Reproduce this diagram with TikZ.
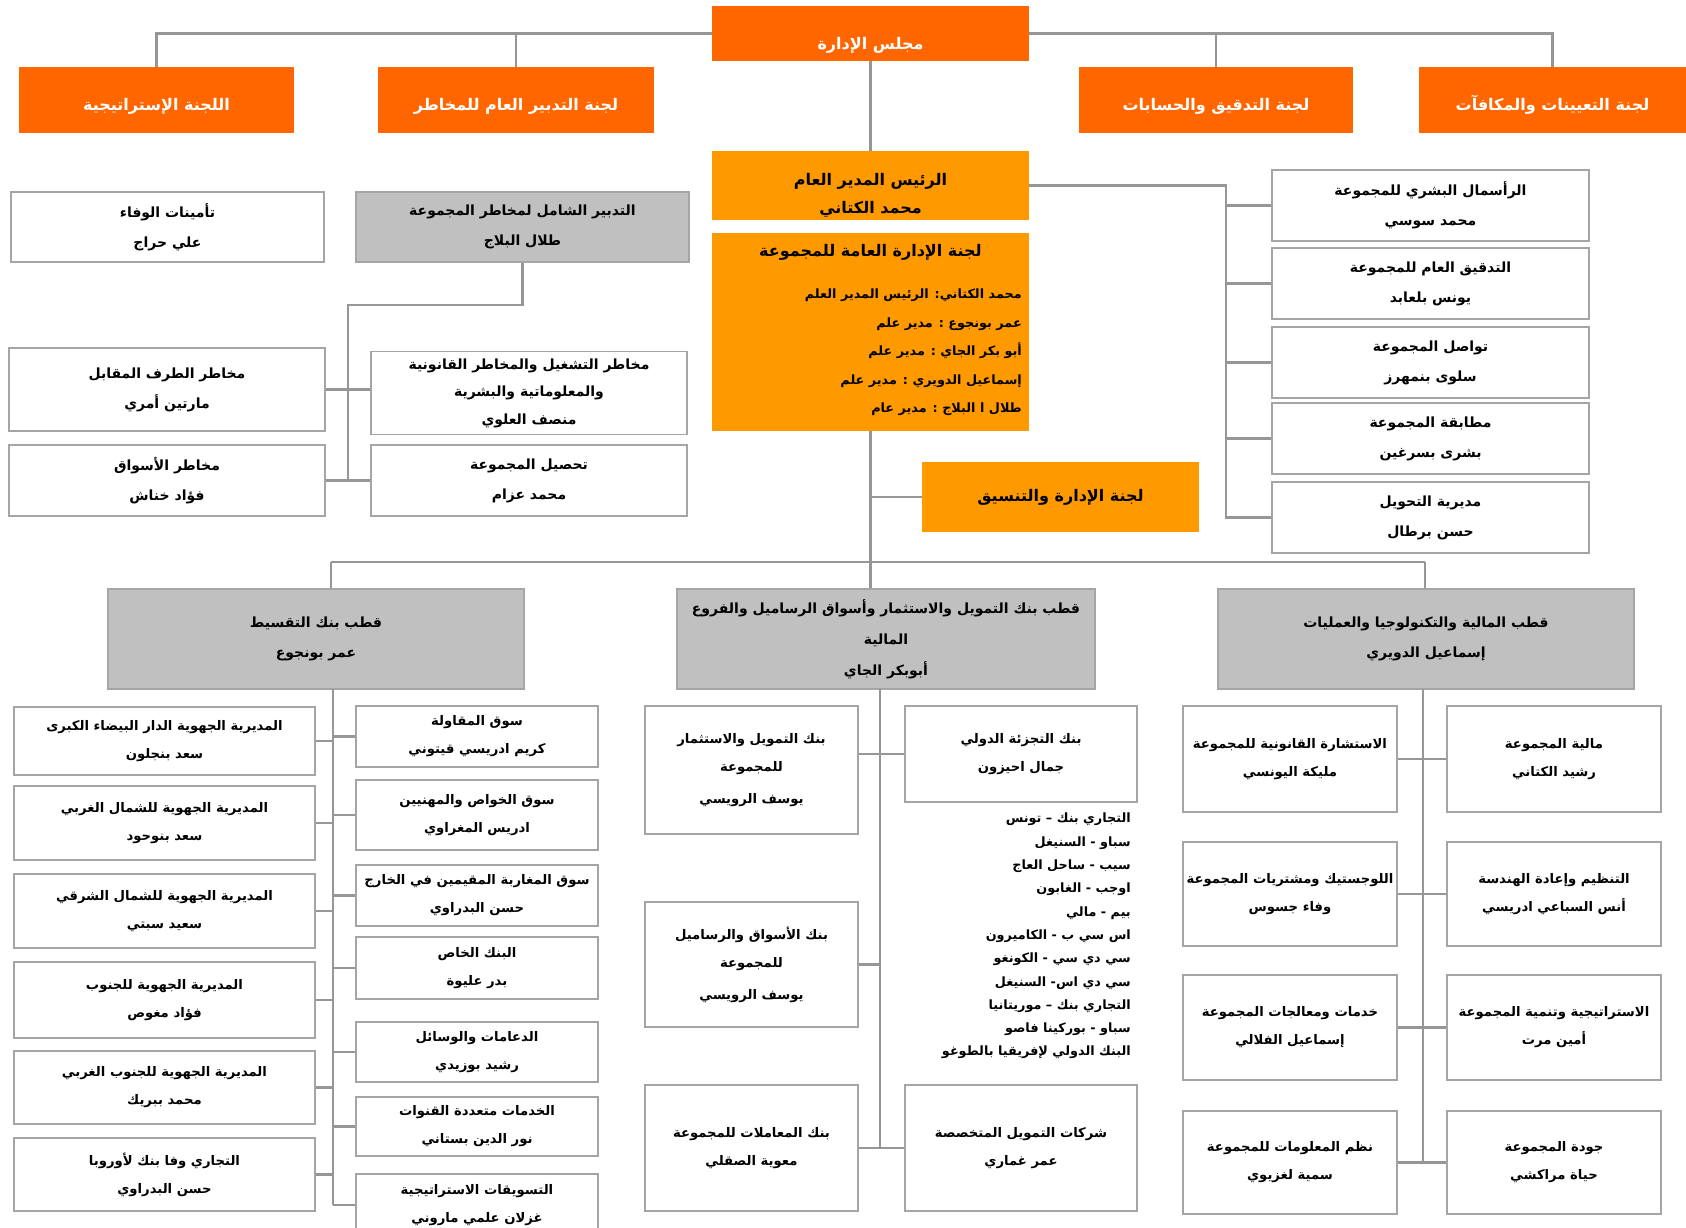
\documentclass[tikz,border=0pt]{standalone}
\usepackage{fontspec}
\usepackage{tikz}
\usetikzlibrary{positioning,calc}
\TeXXeTstate=1
\newfontfamily\arabicfont[Script=Arabic]{DejaVu Sans}
\newcommand{\artext}[1]{\beginR #1\endR}
\definecolor{boardorange}{RGB}{255,102,0}
\definecolor{ceoorange}{RGB}{255,153,0}
\definecolor{polegrey}{RGB}{192,192,192}
\definecolor{linkgrey}{RGB}{150,150,150}
\definecolor{framegrey}{RGB}{165,165,165}

\begin{document}
\begin{tikzpicture}[x=1pt,y=-1pt,
    committee/.style={fill=boardorange, text=white, inner sep=0pt, font=\arabicfont\bfseries\fontsize{16}{20}\selectfont},
    ceobox/.style={fill=ceoorange, inner sep=0pt, align=center, font=\arabicfont\bfseries\fontsize{16}{28}\selectfont},
    unit/.style={draw=framegrey, line width=1.5pt, fill=white, inner sep=0pt, align=center, font=\arabicfont\bfseries\fontsize{14}{30}\selectfont},
    smallunit/.style={unit, font=\arabicfont\bfseries\fontsize{13.2}{28}\selectfont},
    pole/.style={unit, fill=polegrey},
    link/.style={draw=linkgrey, line width=2.5pt}]
    \useasboundingbox (0,0) rectangle (1686,1228);

    % board and its committees
    \node[committee, minimum width=317, minimum height=55] (board) at (870.5,33.5) {\raisebox{-16pt}[0pt][0pt]{\artext{مجلس الإدارة}}};
    \node[committee, minimum width=275, minimum height=66] (strat) at (156.5,100) {\raisebox{-10pt}[0pt][0pt]{\artext{اللجنة الإستراتيجية}}};
    \node[committee, minimum width=276, minimum height=66] (riskc) at (516,100) {\raisebox{-10pt}[0pt][0pt]{\artext{لجنة التدبير العام للمخاطر}}};
    \node[committee, minimum width=274, minimum height=66] (auditc) at (1216,100) {\raisebox{-10pt}[0pt][0pt]{\artext{لجنة التدقيق والحسابات}}};
    \node[committee, minimum width=267, minimum height=66] (nominc) at (1552.5,100) {\raisebox{-10pt}[0pt][0pt]{\artext{لجنة التعيينات والمكافآت}}};
    \draw[link] (strat.north) |- (board.west);
    \draw[link] (riskc.north) |- (board.west);
    \draw[link] (auditc.north) |- (board.east);
    \draw[link] (nominc.north) |- (board.east);

    % general management
    \node[ceobox, minimum width=317, minimum height=69] (ceo) at (870.5,185.5) {};
    \node[ceobox, fill=none] (ceoname) at (870.5,195) {\artext{الرئيس المدير العام}\\\artext{محمد الكتاني}};
    \node[ceobox, minimum width=317, minimum height=198] (gmc) at (870.5,332) {};
    \node[font=\arabicfont\bfseries\fontsize{16}{20}\selectfont] (gmctitle) at (870.5,252) {\artext{لجنة الإدارة العامة للمجموعة}};
    \node[anchor=north east, align=right, inner sep=0pt, font=\arabicfont\bfseries\fontsize{12.8}{28.5}\selectfont] (gmclist) at (1022,289) {\artext{محمد الكتاني: الرئيس المدير العلم}\\\artext{عمر بونجوع : مدير علم}\\\artext{أبو بكر الجاي : مدير علم}\\\artext{إسماعيل الدويري : مدير علم}\\\artext{طلال ا البلاج : مدير عام}};
    \draw[link] (board.south) -- (board.south |- ceo.north);
    \node[ceobox, minimum width=277, minimum height=70] (coord) at (1060.5,497) {\artext{لجنة الإدارة والتنسيق}};
    \draw[link] (coord.west) -- (coord.west -| gmc.south);

    % group functions
    \node[unit, minimum width=317, minimum height=71] (hcap) at (1430.5,205.5) {\artext{الرأسمال البشري للمجموعة}\\\artext{محمد سوسي}};
    \node[unit, minimum width=317, minimum height=71] (gaudit) at (1430.5,283.5) {\artext{التدقيق العام للمجموعة}\\\artext{يونس بلعابد}};
    \node[unit, minimum width=317, minimum height=71] (comm) at (1430.5,362.5) {\artext{تواصل المجموعة}\\\artext{سلوى بنمهرز}};
    \node[unit, minimum width=317, minimum height=71] (compl) at (1430.5,438.5) {\artext{مطابقة المجموعة}\\\artext{بشرى بسرغين}};
    \node[unit, minimum width=317, minimum height=71] (transf) at (1430.5,517.5) {\artext{مديرية  التحويل}\\\artext{حسن برطال}};
    \coordinate (hrspine) at (1226,0);
    \draw[link] (ceo.east) -| (hrspine |- transf.west) -- (transf.west);
    \foreach \n in {hcap,gaudit,comm,compl}
        \draw[link] (hrspine |- \n.west) -- (\n.west);

    % risk management
    \node[unit, minimum width=313, minimum height=70] (wafa) at (167.5,227) {\artext{تأمينات الوفاء}\\\artext{علي حراج}};
    \node[pole, minimum width=333, minimum height=70] (grm) at (522.5,227) {\artext{التدبير الشامل لمخاطر المجموعة}\\\artext{طلال البلاج}};
    \node[unit, minimum width=316, minimum height=83] (cpr) at (167,389.5) {\artext{مخاطر الطرف المقابل}\\\artext{مارتين أمري}};
    \node[unit, minimum width=316, minimum height=83, font=\arabicfont\bfseries\fontsize{14}{27.5}\selectfont] (opr) at (529,393) {\artext{مخاطر التشغيل والمخاطر القانونية}\\\artext{والمعلوماتية والبشرية}\\\artext{منصف العلوي}};
    \node[unit, minimum width=316, minimum height=71] (mkr) at (167,480.5) {\artext{مخاطر الأسواق}\\\artext{فؤاد خناش}};
    \node[unit, minimum width=316, minimum height=71] (coll) at (529,480.5) {\artext{تحصيل المجموعة}\\\artext{محمد عزام}};
    \coordinate (rkspine) at (348,305);
    \draw[link] (grm.south) |- (rkspine) -- (rkspine |- mkr.east);
    \draw[link] (cpr.east) -- (cpr.east -| opr.west);
    \draw[link] (mkr.east) -- (coll.west);

    % poles
    \coordinate (barL) at (331,562);
    \coordinate (barR) at (1425,562);
    \node[pole, minimum width=416, minimum height=100] (plA) at (316,639) {\artext{قطب بنك التقسيط}\\\artext{عمر بونجوع}};
    \node[pole, minimum width=418, minimum height=100, font=\arabicfont\bfseries\fontsize{14}{31}\selectfont] (plB) at (886,639) {\artext{قطب بنك التمويل والاستثمار وأسواق الرساميل والفروع}\\\artext{المالية}\\\artext{أبوبكر الجاي}};
    \node[pole, minimum width=416, minimum height=100] (plC) at (1426,639) {\artext{قطب المالية والتكنولوجيا والعمليات}\\\artext{إسماعيل الدويري}};
    \draw[link] (gmc.south) -- (gmc.south |- plB.north);
    \draw[link] (barL) -- (barR);
    \draw[link] (barL) -- (barL |- plA.north);
    \draw[link] (barR) -- (barR |- plC.north);

    % installment bank pole
    \node[smallunit, minimum width=301, minimum height=68] (a1) at (164.5,741) {\artext{المديرية الجهوية الدار البيضاء الكبرى}\\\artext{سعد بنجلون}};
    \node[smallunit, minimum width=301, minimum height=74] (a2) at (164.5,823) {\artext{المديرية الجهوية للشمال الغربي}\\\artext{سعد بنوحود}};
    \node[smallunit, minimum width=301, minimum height=74] (a3) at (164.5,911) {\artext{المديرية الجهوية للشمال الشرقي}\\\artext{سعيد سبتي}};
    \node[smallunit, minimum width=301, minimum height=76] (a4) at (164.5,1000) {\artext{المديرية الجهوية للجنوب}\\\artext{فؤاد مغوص}};
    \node[smallunit, minimum width=301, minimum height=73] (a5) at (164.5,1087.5) {\artext{المديرية الجهوية للجنوب الغربي}\\\artext{محمد ببريك}};
    \node[smallunit, minimum width=301, minimum height=73] (a6) at (164.5,1174.5) {\artext{التجاري وفا بنك لأوروبا}\\\artext{حسن البدراوي}};
    \node[smallunit, minimum width=242, minimum height=61] (b1) at (477,736.5) {\artext{سوق المقاولة}\\\artext{كريم ادريسي قيتوني}};
    \node[smallunit, minimum width=242, minimum height=70] (b2) at (477,815) {\artext{سوق الخواص والمهنيين}\\\artext{ادريس المغراوي}};
    \node[smallunit, minimum width=242, minimum height=61] (b3) at (477,895.5) {\artext{سوق المغاربة المقيمين في الخارج}\\\artext{حسن البدراوي}};
    \node[smallunit, minimum width=242, minimum height=62] (b4) at (477,968) {\artext{البنك الخاص}\\\artext{بدر عليوة}};
    \node[smallunit, minimum width=242, minimum height=60] (b5) at (477,1052) {\artext{الدعامات والوسائل}\\\artext{رشيد بوزيدي}};
    \node[smallunit, minimum width=242, minimum height=59] (b6) at (477,1126.5) {\artext{الخدمات متعددة القنوات}\\\artext{نور الدين بستاني}};
    \node[smallunit, minimum width=242, minimum height=62] (b7) at (477,1205) {\artext{التسويقات الاستراتيجية}\\\artext{غزلان علمي ماروني}};
    \coordinate (spA) at (333,689);
    \draw[link] (spA) -- (spA |- b7.west);
    \foreach \n in {a1,a2,a3,a4,a5,a6}
        \draw[link] (\n.east) -- (\n.east -| spA);
    \foreach \n in {b1,b2,b3,b4,b5,b6,b7}
        \draw[link] (\n.west) -- (\n.west -| spA);

    % investment bank pole
    \node[smallunit, minimum width=213, minimum height=128] (c1) at (751.5,770) {\artext{بنك التمويل والاستثمار}\\\artext{للمجموعة}\\[4pt]\artext{يوسف الرويسي}};
    \node[smallunit, minimum width=213, minimum height=125] (c2) at (751.5,964.5) {\artext{بنك الأسواق والرساميل}\\\artext{للمجموعة}\\[4pt]\artext{يوسف الرويسي}};
    \node[smallunit, minimum width=213, minimum height=126] (c3) at (751.5,1148) {\artext{بنك المعاملات للمجموعة}\\\artext{معوية الصقلي}};
    \node[smallunit, minimum width=232, minimum height=96] (d1) at (1021,754) {\artext{بنك التجزئة الدولي}\\\artext{جمال احيزون}};
    \node[smallunit, minimum width=232, minimum height=126] (d2) at (1021,1148) {\artext{شركات التمويل المتخصصة}\\\artext{عمر غماري}};
    \node[anchor=north east, align=right, inner sep=0pt, font=\arabicfont\bfseries\fontsize{12.8}{23.3}\selectfont] (intl) at (1131,813) {\artext{التجاري بنك – تونس}\\\artext{سباو - السنيغل}\\\artext{سيب - ساحل  العاج}\\\artext{اوجب - الغابون}\\\artext{بيم - مالي}\\\artext{اس سي ب - الكاميرون}\\\artext{سي دي سي - الكونغو}\\\artext{سي دي اس- السنيغل}\\\artext{التجاري بنك – موريتانيا}\\\artext{سباو - بوركينا فاصو}\\\artext{البنك الدولي لإفريقيا بالطوغو}};
    \coordinate (spB) at (880,689);
    \draw[link] (spB) -- (spB |- c3.east);
    \draw[link] (c1.east |- d1.west) -- (d1.west);
    \draw[link] (c2.east) -- (c2.east -| spB);
    \draw[link] (c3.east) -- (d2.west);

    % finance and operations pole
    \node[smallunit, minimum width=214, minimum height=106] (e1) at (1290,759) {\artext{الاستشارة القانونية للمجموعة}\\\artext{مليكة اليونسي}};
    \node[smallunit, minimum width=214, minimum height=104] (e2) at (1290,894) {\artext{اللوجستيك ومشتريات المجموعة}\\\artext{وفاء جسوس}};
    \node[smallunit, minimum width=214, minimum height=105] (e3) at (1290,1027.5) {\artext{خدمات ومعالجات المجموعة}\\\artext{إسماعيل الفلالي}};
    \node[smallunit, minimum width=214, minimum height=103] (e4) at (1290,1162.5) {\artext{نظم المعلومات للمجموعة}\\\artext{سمية لغزيوي}};
    \node[smallunit, minimum width=214, minimum height=106] (f1) at (1554,759) {\artext{مالية المجموعة}\\\artext{رشيد الكتاني}};
    \node[smallunit, minimum width=214, minimum height=104] (f2) at (1554,894) {\artext{التنظيم وإعادة الهندسة}\\\artext{أنس السباعي ادريسي}};
    \node[smallunit, minimum width=214, minimum height=105] (f3) at (1554,1027.5) {\artext{الاستراتيجية وتنمية المجموعة}\\\artext{أمين مرت}};
    \node[smallunit, minimum width=214, minimum height=103] (f4) at (1554,1162.5) {\artext{جودة المجموعة}\\\artext{حياة مراكشي}};
    \coordinate (spC) at (1423,689);
    \draw[link] (spC) -- (spC |- e4.east);
    \foreach \i in {1,2,3,4}
        \draw[link] (e\i.east) -- (f\i.west);
\end{tikzpicture}
\end{document}
